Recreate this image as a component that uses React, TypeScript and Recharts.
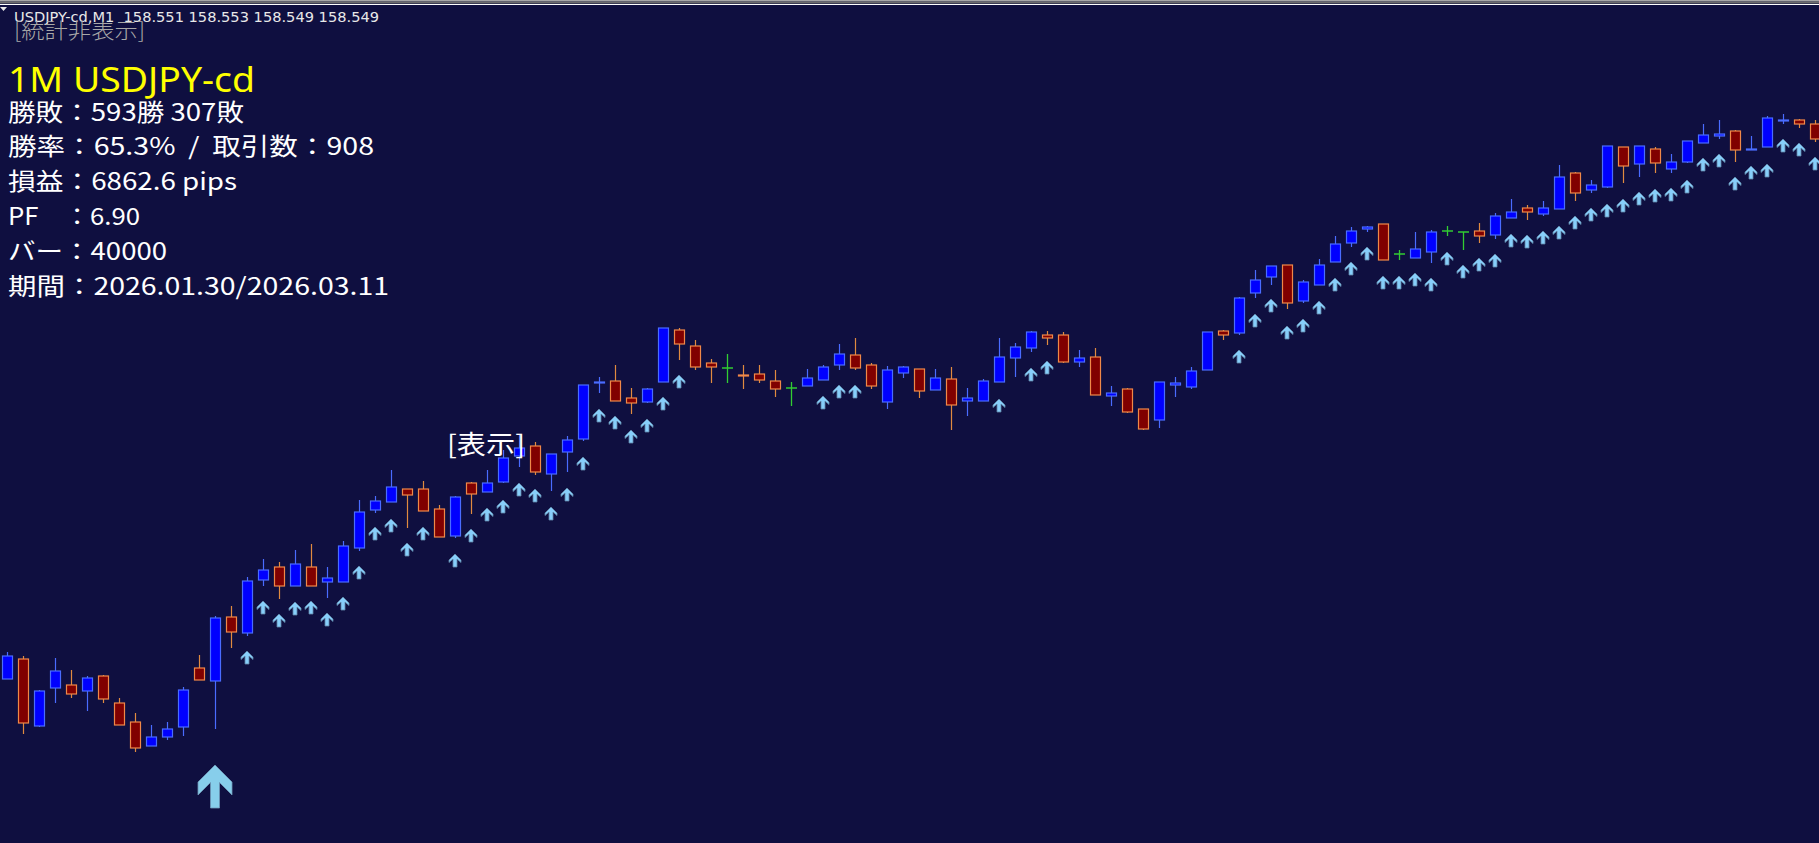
import React from "react";
import { ComposedChart, Bar, Line, XAxis, YAxis } from "recharts";

// USDJPY-cd M1 candles, oldest first
const opens = [
  158.221, 158.241, 158.174, 158.212, 158.215, 158.209, 158.224, 158.197, 158.178, 158.154,
  158.163, 158.173, 158.232, 158.219, 158.283, 158.267, 158.320, 158.333, 158.314, 158.333,
  158.318, 158.318, 158.352, 158.390, 158.398, 158.411, 158.411, 158.391, 158.364, 158.417,
  158.408, 158.418, 158.444, 158.454, 158.426, 158.448, 158.461, 158.517, 158.519, 158.502,
  158.498, 158.518, 158.570, 158.554, 158.537, 158.532, 158.525, 158.526, 158.519, 158.512,
  158.514, 158.520, 158.535, 158.545, 158.535, 158.498, 158.527, 158.531, 158.510, 158.521,
  158.499, 158.499, 158.518, 158.542, 158.552, 158.565, 158.565, 158.538, 158.543, 158.504,
  158.511, 158.491, 158.480, 158.515, 158.513, 158.530, 158.569, 158.567, 158.607, 158.623,
  158.635, 158.599, 158.615, 158.638, 158.657, 158.671, 158.676, 158.646, 158.642, 158.648,
  158.669, 158.668, 158.669, 158.665, 158.682, 158.692, 158.686, 158.691, 158.727, 158.710,
  158.713, 158.753, 158.736, 158.751, 158.731, 158.738, 158.757, 158.764, 158.769, 158.750,
  158.753, 158.779, 158.780, 158.776,
];
const highs = [
  158.248, 158.244, 158.210, 158.242, 158.230, 158.224, 158.225, 158.202, 158.187, 158.175,
  158.178, 158.213, 158.245, 158.284, 158.294, 158.323, 158.341, 158.338, 158.350, 158.356,
  158.333, 158.359, 158.400, 158.404, 158.430, 158.411, 158.419, 158.395, 158.404, 158.418,
  158.430, 158.450, 158.465, 158.458, 158.446, 158.464, 158.515, 158.523, 158.535, 158.512,
  158.512, 158.572, 158.572, 158.560, 158.541, 158.546, 158.535, 158.535, 158.530, 158.518,
  158.531, 158.535, 158.556, 158.562, 158.537, 158.534, 158.534, 158.531, 158.531, 158.533,
  158.512, 158.521, 158.562, 158.557, 158.569, 158.569, 158.568, 158.550, 158.552, 158.514,
  158.512, 158.491, 158.518, 158.523, 158.533, 158.568, 158.570, 158.603, 158.630, 158.634,
  158.635, 158.620, 158.641, 158.664, 158.673, 158.674, 158.676, 158.650, 158.668, 158.670,
  158.674, 158.668, 158.677, 158.687, 158.701, 158.695, 158.699, 158.735, 158.728, 158.720,
  158.754, 158.753, 158.754, 158.753, 158.746, 158.759, 158.776, 158.780, 158.770, 158.764,
  158.784, 158.786, 158.781, 158.780,
];
const lows = [
  158.221, 158.166, 158.173, 158.197, 158.202, 158.189, 158.197, 158.175, 158.148, 158.154,
  158.160, 158.164, 158.220, 158.171, 158.252, 158.264, 158.314, 158.301, 158.314, 158.314,
  158.302, 158.318, 158.349, 158.387, 158.398, 158.372, 158.389, 158.363, 158.362, 158.386,
  158.408, 158.417, 158.433, 158.425, 158.409, 158.428, 158.459, 158.507, 158.499, 158.486,
  158.497, 158.518, 158.540, 158.530, 158.517, 158.517, 158.511, 158.517, 158.503, 158.494,
  158.514, 158.520, 158.530, 158.530, 158.511, 158.491, 158.522, 158.502, 158.510, 158.470,
  158.484, 158.499, 158.518, 158.523, 158.548, 158.555, 158.537, 158.533, 158.505, 158.494,
  158.487, 158.470, 158.472, 158.503, 158.511, 158.530, 158.560, 158.565, 158.602, 158.615,
  158.591, 158.597, 158.615, 158.638, 158.653, 158.668, 158.640, 158.640, 158.642, 158.637,
  158.664, 158.650, 158.657, 158.661, 158.682, 158.680, 158.684, 158.691, 158.699, 158.707,
  158.712, 158.717, 158.723, 158.727, 158.727, 158.737, 158.757, 158.761, 158.738, 158.750,
  158.753, 158.776, 158.772, 158.758,
];
const closes = [
  158.244, 158.177, 158.209, 158.229, 158.206, 158.222, 158.201, 158.175, 158.152, 158.163,
  158.171, 158.210, 158.220, 158.282, 158.268, 158.319, 158.330, 158.314, 158.336, 158.314,
  158.322, 158.354, 158.388, 158.399, 158.413, 158.405, 158.389, 158.363, 158.403, 158.406,
  158.417, 158.442, 158.452, 158.428, 158.446, 158.460, 158.515, 158.518, 158.499, 158.497,
  158.511, 158.572, 158.556, 158.533, 158.533, 158.532, 158.524, 158.520, 158.511, 158.512,
  158.522, 158.533, 158.546, 158.532, 158.514, 158.530, 158.533, 158.509, 158.522, 158.495,
  158.502, 158.519, 158.543, 158.553, 158.568, 158.562, 158.538, 158.542, 158.505, 158.507,
  158.488, 158.471, 158.518, 158.517, 158.529, 158.568, 158.565, 158.602, 158.620, 158.634,
  158.597, 158.618, 158.635, 158.656, 158.669, 158.673, 158.640, 158.646, 158.651, 158.668,
  158.669, 158.668, 158.664, 158.684, 158.688, 158.688, 158.692, 158.723, 158.707, 158.715,
  158.754, 158.734, 158.754, 158.737, 158.738, 158.759, 158.765, 158.766, 158.750, 158.751,
  158.782, 158.780, 158.776, 158.761,
];
// buy signal arrows (price of the arrow tip), null = no arrow
const arrows = [
  null, null, null, null, null, null, null, null, null, null,
  null, null, null, null, null, 158.249, 158.299, 158.286, 158.298, 158.299,
  158.287, 158.303, 158.334, 158.373, 158.381, 158.357, 158.373, null, 158.346, 158.371,
  158.392, 158.400, 158.417, 158.411, 158.393, 158.412, 158.443, 158.491, 158.484, 158.470,
  158.481, 158.503, 158.525, null, null, null, null, null, null, null,
  null, 158.504, 158.515, 158.515, null, null, null, null, null, null,
  null, null, 158.501, null, 158.532, 158.539, null, null, null, null,
  null, null, null, null, null, null, null, 158.550, 158.586, 158.601,
  158.574, 158.581, 158.599, 158.622, 158.638, 158.653, 158.624, 158.624, 158.627, 158.622,
  158.648, 158.635, 158.642, 158.646, 158.666, 158.665, 158.669, 158.674, 158.684, 158.692,
  158.696, 158.701, 158.708, 158.711, 158.712, 158.720, 158.742, 158.746, 158.723, 158.734,
  158.736, 158.761, 158.757, 158.743,
];
// the big entry arrow
const entryBar = 13;
const entryPrice = 158.135;

const NB = "\u00a0";
const headerText = `USDJPY-cd,M1${NB}${NB}158.551 158.553 158.549 158.549`;
const statLines = [
  "勝敗：593勝 307敗",
  `勝率：65.3%${NB}${NB}/${NB}${NB}取引数：908`,
  "損益：6862.6 pips",
  "PF　：6.90",
  "バー：40000",
  "期間：2026.01.30/2026.03.11",
];
const statWidths = [236, 366, 229, 132, 159, 381];

const data = opens.map((o, i) => ({
  t: i,
  open: o,
  high: highs[i],
  low: lows[i],
  close: closes[i],
  range: [lows[i], highs[i]],
  arrow: arrows[i],
  entry: i === entryBar ? entryPrice : null,
}));

const BG = "#0f0f40";

const Candle = (props: any) => {
  const { x, y, width, height, payload } = props;
  if (x == null || y == null) return null;
  const { open, close, high, low } = payload;
  const top = Math.min(y, y + height);
  const bottom = Math.max(y, y + height);
  const k = (bottom - top) / (high - low);
  const cx = Math.round(x + width / 2) + 0.5;
  const yO = top + (high - open) * k;
  const yC = top + (high - close) * k;
  if (open === close) {
    return (
      <g>
        <line x1={cx} x2={cx} y1={top} y2={bottom} stroke="#32cd32" strokeWidth={1.3} />
        <line x1={cx - 5.5} x2={cx + 5.5} y1={yO} y2={yO} stroke="#32cd32" strokeWidth={1.5} />
      </g>
    );
  }
  const up = close > open;
  const edge = up ? "#4a6cff" : "#f08848";
  const fill = up ? "#0000ff" : "#800000";
  const bTop = Math.min(yO, yC);
  const bH = Math.max(Math.abs(yO - yC), 1);
  return (
    <g>
      <line x1={cx} x2={cx} y1={top} y2={bottom} stroke={up ? "#4a6cff" : "#e08a40"} strokeWidth={1.2} />
      <rect x={cx - 5} y={bTop} width={10} height={bH} fill={fill} stroke={edge} strokeWidth={1.2} />
    </g>
  );
};

const renderArrow = (props: any) => {
  const { cx, cy, index, value } = props;
  if (cy == null || value == null || isNaN(cy)) return <g key={"a" + index} />;
  const pts = [
    [0, 0], [6, 6], [6, 8.5], [2, 5], [2, 13], [-2, 13], [-2, 5], [-6, 8.5], [-6, 6],
  ]
    .map(([px, py]) => `${cx + px},${cy + py}`)
    .join(" ");
  return <polygon key={"a" + index} points={pts} fill="#87cefa" stroke="#5f86a8" strokeWidth={0.8} />;
};

const renderEntry = (props: any) => {
  const { cx, cy, index, value } = props;
  if (cy == null || value == null || isNaN(cy)) return <g key={"e" + index} />;
  const pts = [
    [0, 0], [17, 17], [17, 30], [4.5, 17.5], [4.5, 43], [-4.5, 43], [-4.5, 17.5], [-17, 30], [-17, 17],
  ]
    .map(([px, py]) => `${cx + px},${cy + py}`)
    .join(" ");
  return <polygon key={"e" + index} points={pts} fill="#87ceeb" stroke="#6f98b8" strokeWidth={0.8} />;
};

const App = () => {
  return (
    <div
      style={{
        position: "fixed",
        left: 0,
        top: 0,
        width: 1819,
        height: 843,
        overflow: "hidden",
        background: BG,
      }}
    >
      <div style={{ position: "absolute", left: -0.7, top: 0 }}>
        <ComposedChart
          width={1824}
          height={843}
          data={data}
          margin={{ top: 0, right: 0, bottom: 0, left: 0 }}
          barCategoryGap={0}
        >
          <XAxis dataKey="t" hide />
          <YAxis hide type="number" domain={[158.057, 158.9]} allowDataOverflow />
          <Bar dataKey="range" barSize={12} shape={<Candle />} isAnimationActive={false} />
          <Line
            dataKey="arrow"
            stroke="none"
            dot={renderArrow}
            activeDot={false}
            isAnimationActive={false}
          />
          <Line
            dataKey="entry"
            stroke="none"
            dot={renderEntry}
            activeDot={false}
            isAnimationActive={false}
          />
        </ComposedChart>
      </div>
      <svg
        width={1819}
        height={843}
        style={{ position: "absolute", left: 0, top: 0, pointerEvents: "none" }}
      >
        <rect x={0} y={0} width={1819} height={1.5} fill="#a8a8a8" />
        <rect x={0} y={1.5} width={1819} height={2} fill="#6c6c6c" />
        <rect x={0} y={4} width={1819} height={1} fill="#ffffff" />
        <polygon points="0,7 7,7 3.5,11" fill="#e8e8e8" />
        <text
          x={14}
          y={22}
          fontFamily="DejaVu Sans"
          fontSize={14}
          fill="#e8e8e8"
          textLength={365}
          lengthAdjust="spacingAndGlyphs"
        >
          {headerText}
        </text>
        <text
          x={14}
          y={38}
          fontFamily="Noto Sans CJK JP"
          fontSize={21}
          fontWeight={300}
          fill="#a8a8a8"
          textLength={131}
          lengthAdjust="spacingAndGlyphs"
        >
          [統計非表示]
        </text>
        <text
          x={8}
          y={92}
          fontFamily="Noto Sans"
          fontSize={35}
          fill="#ffff00"
          textLength={247}
          lengthAdjust="spacingAndGlyphs"
        >
          1M USDJPY-cd
        </text>
        {statLines.map((s, i) => (
          <text
            key={i}
            x={8}
            y={110 + i * 34.8}
            dominantBaseline="central"
            fontFamily="Noto Sans CJK JP"
            fontSize={24}
            fill="#ffffff"
            textLength={statWidths[i]}
            lengthAdjust="spacingAndGlyphs"
          >
            {s}
          </text>
        ))}
        <text
          x={447}
          y={442}
          dominantBaseline="central"
          fontFamily="Noto Sans CJK JP"
          fontSize={26}
          fill="#ffffff"
          textLength={78}
          lengthAdjust="spacingAndGlyphs"
        >
          [表示]
        </text>
      </svg>
    </div>
  );
};

export default App;
